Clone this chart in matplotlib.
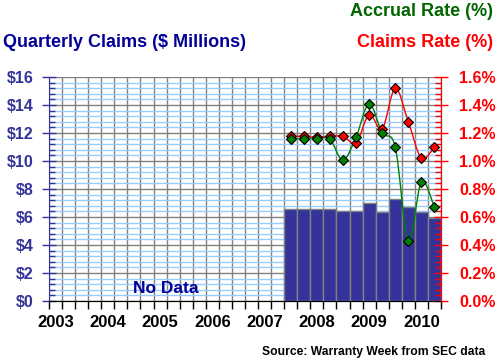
import numpy as np
import matplotlib.pyplot as plt
from matplotlib.path import Path
from matplotlib.patches import PathPatch
from matplotlib.ticker import MultipleLocator, FuncFormatter

plt.rcParams['font.family'] = ['Liberation Sans', 'DejaVu Sans']
plt.rcParams['font.weight'] = 'bold'

# quarterly data, 2007 Q3 .. 2010 Q2
years = ['2003', '2004', '2005', '2006', '2007', '2008', '2009', '2010']
first_quarter = 18  # 2007 Q3, counted from 2003 Q1
claims = [6.55, 6.55, 6.55, 6.55, 6.4, 6.4, 6.98, 6.34, 7.29, 6.74, 6.34, 5.95]
claims_rate = [1.176, 1.176, 1.17, 1.176, 1.176, 1.13, 1.33, 1.23, 1.52, 1.28, 1.02, 1.10]
accrual_rate = [1.16, 1.16, 1.16, 1.155, 1.005, 1.17, 1.41, 1.20, 1.10, 0.43, 0.85, 0.67]

navy = '#333399'
red = '#ff0000'
green = '#008000'


def smooth_path(x, y):
    # cubic bezier through the points (catmull-rom style)
    pts = np.column_stack([x, y])
    verts = [pts[0]]
    codes = [Path.MOVETO]
    n = len(pts)
    for i in range(n - 1):
        p0 = pts[max(i - 1, 0)]
        p1 = pts[i]
        p2 = pts[i + 1]
        p3 = pts[min(i + 2, n - 1)]
        c1 = p1 + (p2 - p0) / 6
        c2 = p2 - (p3 - p1) / 6
        verts += [c1, c2, p2]
        codes += [Path.CURVE4] * 3
    return Path(verts, codes)


fig = plt.figure(figsize=(4.98, 3.63), dpi=100)
ax = fig.add_axes([0.0984, 0.1708, 0.7871, 0.6171])
ax2 = ax.twinx()

xq = np.arange(first_quarter, first_quarter + len(claims))
ax.set_axisbelow(True)
ax.bar(xq, claims, width=1, align='edge', color=navy, edgecolor='#808080', linewidth=1, zorder=3)

ax.set_xlim(0, 30)
ax.set_ylim(0, 16)
ax.yaxis.set_major_locator(MultipleLocator(2))
ax.yaxis.set_minor_locator(MultipleLocator(0.4))
ax.yaxis.set_major_formatter(FuncFormatter(lambda v, p: '$%d' % v))
ax.set_xticks(np.arange(0, 31))
ax.set_xticklabels([])
ax.set_xticks(np.arange(len(years)) * 4 + 0.5, labels=years, minor=True)

ax.grid(axis='y', which='minor', color='#99ccff', linewidth=1)
ax.grid(axis='y', which='major', color='#808080', linewidth=1)
ax.grid(axis='x', which='major', color='#808080', linewidth=1)

ax.tick_params(axis='y', which='major', direction='inout', length=10, width=1, color=navy,
               labelcolor=navy, labelsize=11.5, pad=6)
ax.tick_params(axis='y', which='minor', direction='in', length=4, width=1, color=navy)
ax.tick_params(axis='x', which='major', direction='out', length=6, width=1, color='black')
ax.tick_params(axis='x', which='minor', length=0, labelsize=12, pad=10, labelcolor='black')

ax.spines['top'].set_visible(False)
ax.spines['left'].set_color(navy)
ax.spines['bottom'].set_color('black')

# rates on the right axis
ax2.set_ylim(0, 1.6)
ax2.yaxis.set_major_locator(MultipleLocator(0.2))
ax2.yaxis.set_minor_locator(MultipleLocator(0.04))
ax2.yaxis.set_major_formatter(FuncFormatter(lambda v, p: '%.1f%%' % v))
ax2.tick_params(axis='y', which='major', direction='inout', length=10, width=1, color=red,
                labelcolor=red, labelsize=11.5, pad=8)
ax2.tick_params(axis='y', which='minor', direction='in', length=4, width=1, color=red)
ax2.spines['right'].set_color(red)
ax2.spines['top'].set_visible(False)
ax2.spines['left'].set_visible(False)

xp = xq + 0.5
ax2.add_patch(PathPatch(smooth_path(xp, claims_rate), facecolor='none', edgecolor=red, lw=1, zorder=4))
ax2.add_patch(PathPatch(smooth_path(xp, accrual_rate), facecolor='none', edgecolor=green, lw=1, zorder=4))
ax2.plot(xp, claims_rate, linestyle='none', marker='D', markersize=5.5, markerfacecolor=red,
         markeredgecolor='black', markeredgewidth=0.8, zorder=5)
ax2.plot(xp, accrual_rate, linestyle='none', marker='D', markersize=5.5, markerfacecolor=green,
         markeredgecolor='black', markeredgewidth=0.8, zorder=5)

fig.text(0.006, 0.884, 'Quarterly Claims ($ Millions)', color='#000099', fontsize=13,
         ha='left', va='center')
fig.text(0.99, 0.967, 'Accrual Rate (%)', color='#006600', fontsize=13, ha='right', va='center')
fig.text(0.99, 0.884, 'Claims Rate (%)', color=red, fontsize=13, ha='right', va='center')
ax.text(8.95, 0.9, 'No Data', color='#000099', fontsize=12.5, ha='center', va='center')
fig.text(0.974, 0.03, 'Source: Warranty Week from SEC data', color='black', fontsize=8.7,
         ha='right', va='center')

fig.savefig('out.png', dpi=100)
